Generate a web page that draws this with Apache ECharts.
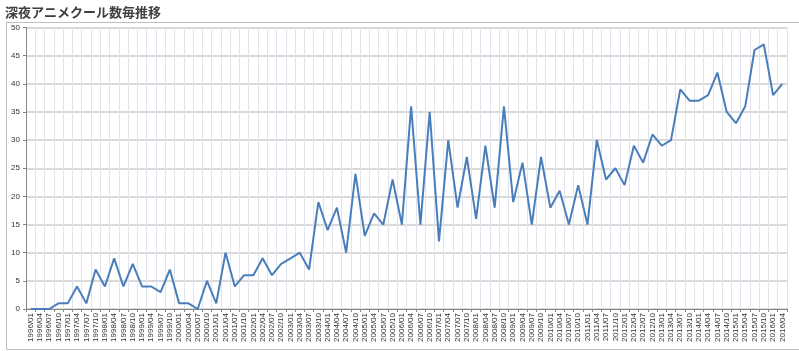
<!DOCTYPE html>
<html>
<head>
<meta charset="utf-8">
<script src="https://cdn.jsdelivr.net/npm/echarts@6/dist/echarts.min.js"></script>
<style>
html,body{margin:0;padding:0;background:#fff;}
#main{width:799px;height:351px;}
</style>
</head>
<body>
<div id="main"></div>
<script>
// quarters 1996/01 .. 2016/04
var quarters = [
 '1996/01','1996/04','1996/07','1996/10','1997/01','1997/04','1997/07','1997/10',
 '1998/01','1998/04','1998/07','1998/10','1999/01','1999/04','1999/07','1999/10',
 '2000/01','2000/04','2000/07','2000/10','2001/01','2001/04','2001/07','2001/10',
 '2002/01','2002/04','2002/07','2002/10','2003/01','2003/04','2003/07','2003/10',
 '2004/01','2004/04','2004/07','2004/10','2005/01','2005/04','2005/07','2005/10',
 '2006/01','2006/04','2006/07','2006/10','2007/01','2007/04','2007/07','2007/10',
 '2008/01','2008/04','2008/07','2008/10','2009/01','2009/04','2009/07','2009/10',
 '2010/01','2010/04','2010/07','2010/10','2011/01','2011/04','2011/07','2011/10',
 '2012/01','2012/04','2012/07','2012/10','2013/01','2013/04','2013/07','2013/10',
 '2014/01','2014/04','2014/07','2014/10','2015/01','2015/04','2015/07','2015/10',
 '2016/01','2016/04'
];
var coolCount = [
 0,0,0,1, 1,4,1,7, 4,9,4,8, 4,4,3,7,
 1,1,0,5, 1,10,4,6, 6,9,6,8, 9,10,7,19,
 14,18,10,24, 13,17,15,23, 15,36,15,35, 12,30,18,27,
 16,29,18,36, 19,26,15,27, 18,21,15,22, 15,30,23,25,
 22,29,26,31, 29,30,39,37, 37,38,42,35, 33,36,46,47,
 38,40
];
var yMin = 0, yMax = 50, yStep = 5;

var chart = echarts.init(document.getElementById('main'));
var option = {
  animation: false,
  title: {
    text: '深夜アニメクール数毎推移',
    left: 0, top: 1,
    textStyle: {fontFamily: 'Noto Sans CJK JP', fontSize: 13, fontWeight: 'bold', color: '#404040'}
  },
  graphic: [{
    type: 'rect', left: 4, top: 20,
    shape: {width: 793, height: 327},
    style: {fill: 'none', stroke: '#bfbfbf', lineWidth: 1},
    silent: true
  }],
  grid: {left: 26, right: 12, top: 27.5, bottom: 42, containLabel: false},
  xAxis: {
    type: 'category',
    data: quarters,
    boundaryGap: true,
    axisLine: {lineStyle: {color: '#868686', width: 1}},
    axisTick: {show: true, length: 3, lineStyle: {color: '#868686'}},
    axisLabel: {
      interval: 0, rotate: 90, fontSize: 8, color: '#333333',
      fontFamily: 'Liberation Sans', margin: 4
    },
    splitLine: {show: true, interval: 0, lineStyle: {color: '#dfe3ec', width: 1}}
  },
  yAxis: {
    type: 'value',
    min: yMin, max: yMax, interval: yStep,
    axisLine: {show: true, lineStyle: {color: '#868686'}},
    axisTick: {show: true, length: 3, lineStyle: {color: '#868686'}},
    axisLabel: {fontSize: 8, color: '#333333', fontFamily: 'Liberation Sans', margin: 6},
    splitLine: {lineStyle: {color: '#cccccc', width: 1.5}}
  },
  series: [{
    type: 'line',
    data: coolCount,
    symbol: 'none',
    lineStyle: {color: '#4a7ebb', width: 2},
    itemStyle: {color: '#4a7ebb'}
  }]
};
chart.setOption(option);
</script>
</body>
</html>
